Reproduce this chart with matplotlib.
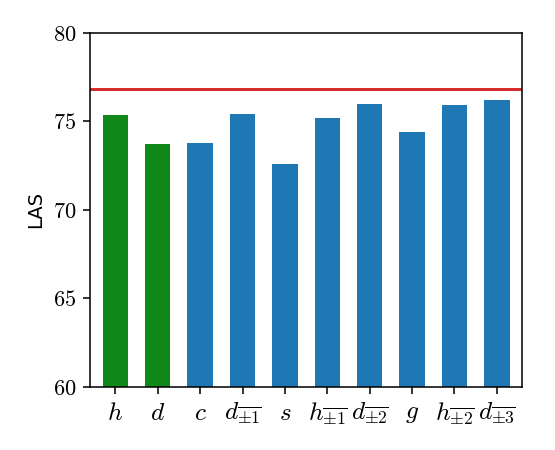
import matplotlib
matplotlib.use('Agg')
import matplotlib.pyplot as plt
import numpy as np

plt.rcParams['mathtext.fontset'] = 'cm'

labels = [r'$h$', r'$d$', r'$c$', r'$d_{\overline{\pm 1}}$', r'$s$',
          r'$h_{\overline{\pm 1}}$', r'$d_{\overline{\pm 2}}$', r'$g$',
          r'$h_{\overline{\pm 2}}$', r'$d_{\overline{\pm 3}}$']
las = [75.35, 73.7, 73.8, 75.42, 72.6, 75.2, 76.0, 74.4, 75.95, 76.22]
colors = ['#11881a', '#11881a'] + ['#1f77b4'] * 8
baseline = 76.82

# drawn at a higher dpi so ticks, lines and text scale like the original
fig = plt.figure(figsize=(555 / 140, 450 / 140), dpi=140)
ax = fig.add_axes([0.162, 0.14, 0.779, 0.787])

x = np.arange(len(las))
ax.bar(x, las, width=0.6, color=colors)
ax.axhline(baseline, color='#d62728', linewidth=1.5)

ax.set_ylim(60, 80)
ax.set_xlim(-0.6, 9.6)
ax.set_xticks(x)
ax.set_xticklabels(labels, fontsize=13)
yt = [60, 65, 70, 75, 80]
ax.set_yticks(yt)
ax.set_yticklabels([r'$%d$' % v for v in yt], fontsize=11.5)
ax.set_ylabel('LAS', fontsize=10)

plt.savefig('out.png', dpi=140)
